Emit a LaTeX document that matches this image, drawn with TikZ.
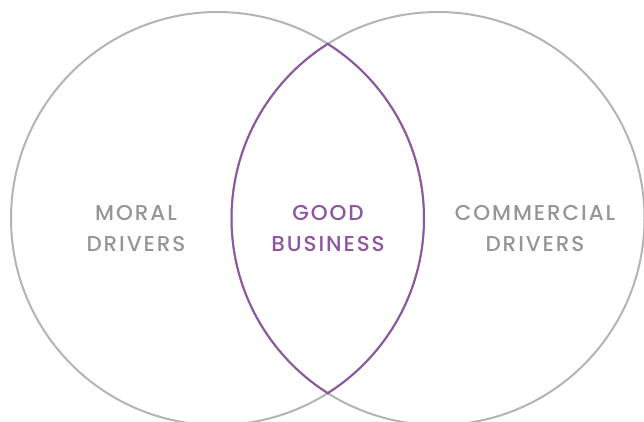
\documentclass[tikz,border=0pt]{standalone}
\usepackage{fontspec}
\setmainfont{Poppins Medium}[LetterSpace=9]
\definecolor{ringgray}{RGB}{180,180,180}
\definecolor{textgray}{RGB}{150,150,150}
\definecolor{lenspurple}{RGB}{140,86,160}

\begin{document}
\begin{tikzpicture}[x=1pt,y=-1pt,
  ring/.style={draw=ringgray,line width=2pt},
  lens/.style={draw=lenspurple,line width=2pt},
  label/.style={align=center,font=\fontsize{21.5}{31}\selectfont,text=textgray}]
  \useasboundingbox (0,0) rectangle (644,422);
  \clip (0,0) rectangle (644,422);
  			\coordinate (L) at (217.5,218.5);
  			\coordinate (R) at (438,218.5);
  			\draw[ring] (L) circle (206.5);
  			\draw[ring] (R) circle (206.5);
  			% lens
  			\begin{scope}
  			  \clip (L) circle (207.5);
  			  \draw[lens] (R) circle (206.5);
  			\end{scope}
  			\begin{scope}
  			  \clip (R) circle (207.5);
  			  \draw[lens] (L) circle (206.5);
  			\end{scope}
  			\node[label] (moral) at (136,229) {MORAL\\DRIVERS};
  			\node[label,text=lenspurple] (good) at (328,229) {GOOD\\BUSINESS};
  			\node[label] (comm) at (535,229) {COMMERCIAL\\DRIVERS};
		\end{tikzpicture}
\end{document}
